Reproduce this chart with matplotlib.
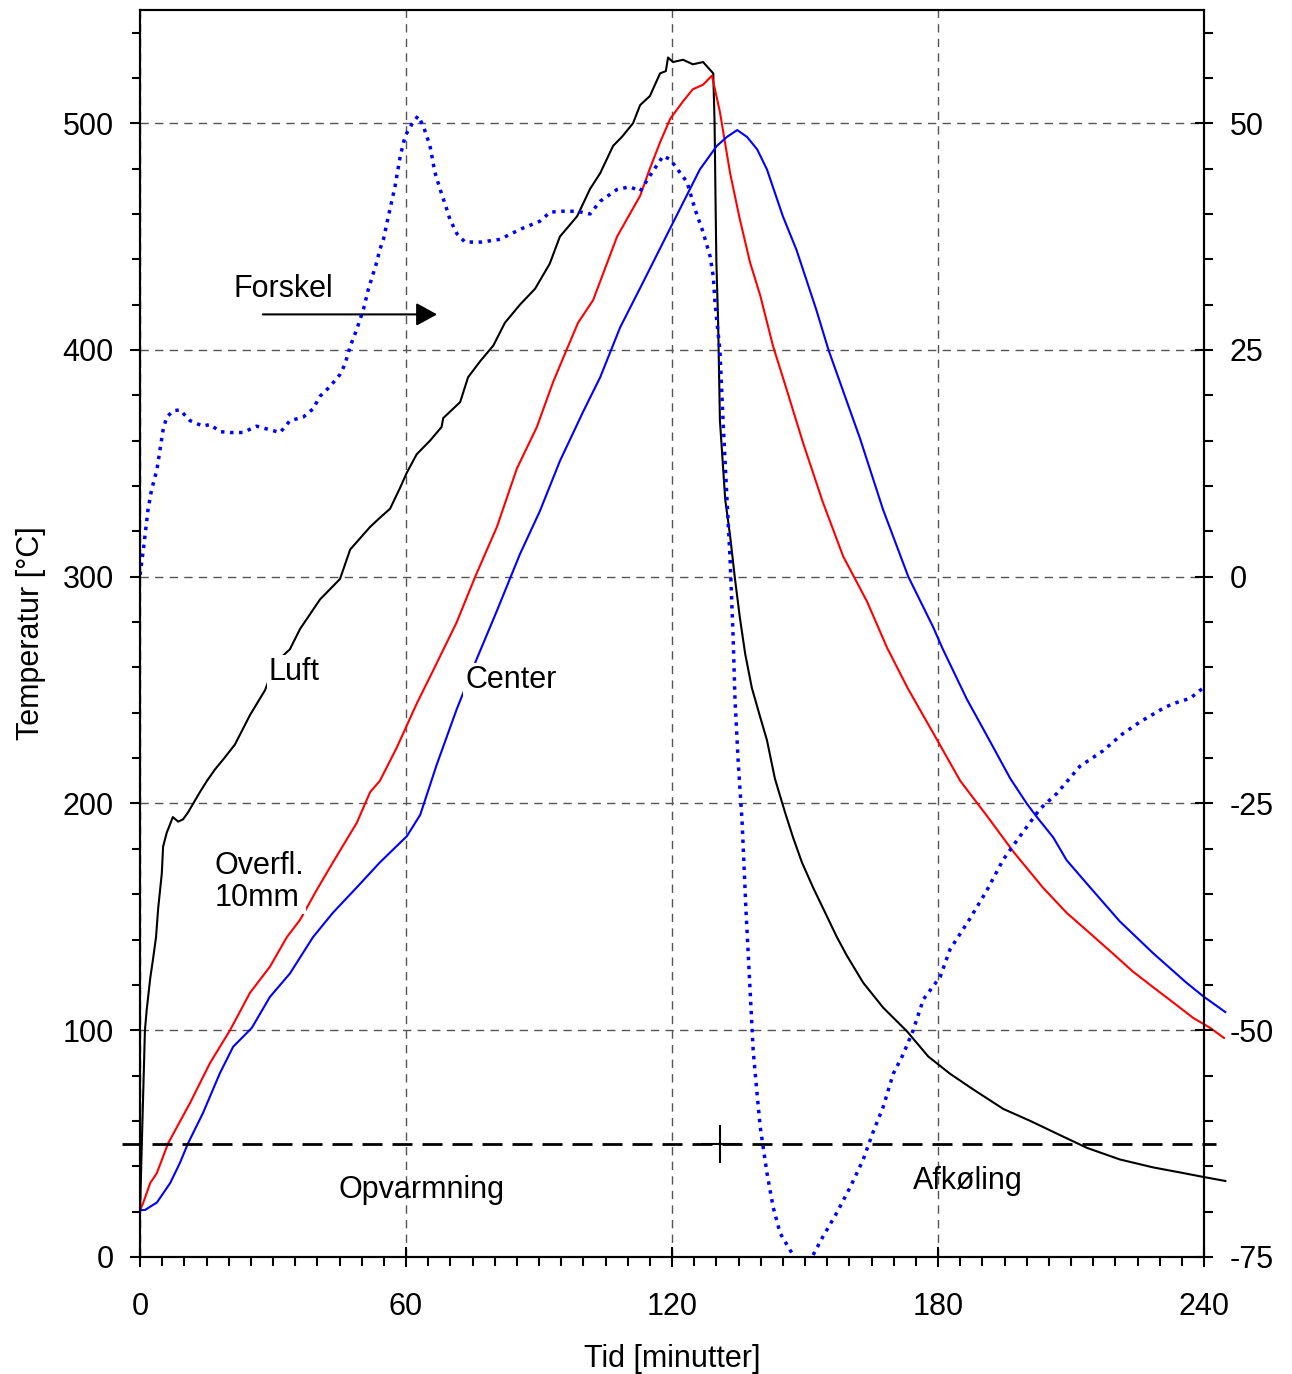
import numpy as np
import matplotlib.pyplot as plt
from matplotlib.ticker import MultipleLocator

plt.rcParams['font.family'] = ['Liberation Sans', 'DejaVu Sans']
plt.rcParams['axes.unicode_minus'] = False

# Luft (ovnstemperatur)
t_luft = [0, 0.4, 1.1, 1.5, 2.3, 2.9, 3.6, 4.1, 4.9, 5.2, 6.0, 7.4, 8.6, 9.7, 10.8,
          12.0, 13.5, 15.1, 16.9, 19, 21.4, 24.8, 28.2, 30.5, 33.8, 36.1, 40.6, 45.1,
          47.4, 51.9, 54.1, 56.4, 58.6, 60.2, 62.4, 65.4, 68.0, 68.4, 72.2, 74.0, 76.7,
          79.7, 82.3, 85.7, 89.1, 92.4, 94.7, 98.6, 101.5, 103.8, 106.7, 108.7, 111.2,
          112.8, 115.0, 117.3, 118.6, 119.1, 120.2, 122.5, 124.7, 127.0, 129.3, 129.6,
          129.8, 130.0, 130.4, 130.8, 132, 133.1, 134.2, 135.3, 136.5, 138, 139.9, 141.4,
          143.2, 145.5, 147.3, 149.3, 151.8, 154.5, 157.2, 159.4, 163.1, 167.6, 173,
          177.8, 182.7, 188, 194.7, 200.8, 206.9, 213.6, 221, 228.5, 235.3, 239.8, 244.8]
T_luft = [20, 50, 100, 109, 123, 131, 141, 154, 169, 181, 187, 194, 192, 193, 196,
          200, 205, 210, 215, 220, 226, 239, 250, 262, 268, 277, 290, 299,
          312, 322, 326, 330, 339, 346, 354, 360, 366, 370, 377, 388, 395,
          402, 412, 420, 427, 438, 450, 459, 471, 478, 490, 494, 500,
          508, 512, 522, 523, 529, 527, 528, 526, 527, 522, 500,
          468, 439, 412, 369, 334, 318, 299, 282, 266, 251, 238, 228,
          211, 196, 185, 174, 163, 152, 141, 133, 121, 110, 99.5,
          88.4, 80.8, 73.8, 65.3, 60, 54.3, 48.1, 43, 39.5, 37, 35.3, 33.5]

# Overflade 10 mm
t_overfl = [0, 0.7, 2.3, 3.8, 6.3, 11.3, 15.8, 20.3, 24.8, 29.3, 33.1, 36.1, 39.9,
            43.5, 48.9, 51.9, 54.1, 57.9, 62.4, 66.1, 71.4, 75.6, 80.5, 85, 89.5,
            93.2, 96.2, 98.8, 102.2, 107.6, 112.8, 115, 117.3, 119.6, 122.5, 124.7,
            127, 129, 130.8, 133.1, 135.3, 137.6, 139.9, 142.8, 145.5, 149.6, 154,
            158.6, 164, 168.5, 173.2, 179.8, 185, 191, 197, 203.7, 209, 214.3,
            219.5, 224, 228.5, 233, 237.5, 241.4, 244.5]
T_overfl = [20.7, 23.8, 32.6, 37, 50, 68, 85.6, 100, 116.5, 128, 141, 148.7, 162,
            174, 191.5, 205, 210, 224.6, 244, 258.6, 279.8, 300, 322, 347.7, 366,
            386, 400, 412, 422, 450, 468, 480, 491.6, 502, 509.7, 515,
            517, 521, 505, 478, 457.6, 438.6, 424, 401.6, 384.8, 358.8, 333,
            309, 289, 268.7, 250.7, 228, 210, 194.6, 178.7, 162.8, 151.8, 142.7,
            133.7, 125.8, 119, 112.3, 105.5, 101, 96.6]

# Center
t_center = [0, 1.1, 3.8, 6.8, 9, 10.8, 14.2, 18, 21, 25.2, 29.3, 33.8, 39, 43.5, 48.9,
            54.1, 60.2, 63.2, 66.9, 71.4, 76, 80.5, 85.7, 90.2, 94.7, 100, 103.8,
            108.3, 113.5, 118, 122.5, 126.3, 130.1, 132.4, 134.7, 136.9, 139.2, 141.4,
            145, 148.1, 152.5, 155.3, 157.9, 162.4, 167.6, 173.3, 178.9, 181.1, 186.5,
            191, 196.3, 200, 202.3, 206, 209, 214.3, 221, 228.5, 236, 239.8, 244.8]
T_center = [20.7, 20.7, 24, 32.6, 41.5, 50, 63.5, 81, 92.7, 101, 114.7, 125, 141, 151.8, 163,
            174, 185.6, 195, 217, 241.4, 264, 285, 310, 329, 351, 373, 388,
            410, 430, 447.5, 465, 479.7, 490, 494, 497, 494, 488.5, 479.7,
            459, 444, 418, 400, 385.7, 361, 329.6, 300, 277.8, 268, 246,
            230, 211, 200, 194, 185, 175, 163, 148, 134, 121, 115, 108]

# Forskel (overflade - center), hoejre akse
t_forskel = [0, 0.75, 1.8, 2.6, 3.8, 4.5, 5.2, 6, 7.5, 9, 11.3, 14.2, 15.8, 18, 20.3,
             23.2, 26.3, 29.3, 31.6, 33.8, 36.8, 39, 40.6, 42.9, 45.1, 46.2, 47.4,
             48.9, 50.4, 51.5, 53.4, 54.1, 54.9, 56, 57.5, 58.7, 59.8, 61.3, 62.7,
             63.9, 65.4, 66.5, 67.7, 69.2, 69.9, 71.5, 73.3, 77, 81.2, 85.7, 90.2,
             92.5, 95.4, 98.6, 101.5, 103.8, 107.6, 110.5, 112.8, 115, 118, 119.6,
             123.4, 125.2, 127, 128.6, 129.3, 129.7, 130.3, 130.8, 131.5, 132.4,
             133.1, 133.8, 134.2, 134.9, 135.8, 136.7, 137.6, 138.3, 139.1, 139.9,
             141.4, 142.8, 144.4, 147.3, 149.5, 151.8, 154, 157.2, 160.2, 163.1,
             165.3, 167.6, 169.9, 172.1, 174.4, 176.7, 180.5, 182.7, 187.2, 191,
             194.7, 198.5, 203, 206.8, 212, 217.2, 221.7, 225.6, 230.8, 233, 236.9,
             240.2]
D_forskel = [0.2, 3, 7.4, 9.6, 11.8, 14, 16.2, 17.6, 18.3, 18.4, 17.2, 16.6, 16.8, 16, 15.9,
             15.9, 16.6, 16.2, 15.9, 17.2, 17.6, 18.5, 19.9, 21, 22.3, 23.4, 25.4,
             27.3, 29.5, 31.7, 34.7, 36.1, 37.2, 39.7, 43, 46.4, 48.6, 49.9, 50.8,
             49.7, 47.5, 44.6, 42.7, 40.5, 39.4, 37.8, 36.9, 36.9, 37.2, 38.3, 39.2,
             40.2, 40.3, 40.3, 40, 41.4, 42.7, 43, 42.5, 44.2, 46.4, 46,
             43.5, 40.5, 38, 35.3, 33.1, 30.2, 27.3, 25, 17.3, 8.5,
             1.9, -6.9, -13.5, -20.2, -27, -37, -45.5, -52.2, -56.6, -60.7,
             -65.7, -69.5, -72.4, -74.8, -76, -74.8, -72.8, -70.1, -67.3, -64.3,
             -61.3, -58.5, -54.8, -52.7, -50, -46.6, -44.1, -41.1, -37.7, -34.6,
             -31.2, -28.6, -25.6, -23.9, -20.9, -19.2, -17.3, -16, -14.5, -14, -13.4,
             -12.1]

split_temp = 50        # grænse mellem opvarmning og afkøling
split_time = 130.8

fig = plt.figure(figsize=(12.92, 13.74), dpi=100)
ax = fig.add_axes([0.1084, 0.0852, 0.8235, 0.9076])

ax.plot(t_luft, T_luft, color='black', lw=1.5, clip_on=False)
ax.plot(t_overfl, T_overfl, color='red', lw=1.5, clip_on=False)
ax.plot(t_center, T_center, color='blue', lw=1.5, clip_on=False)

ax.axhline(split_temp, xmin=-0.017, xmax=1.011, color='black', lw=2,
           dashes=(7.2, 3.6), clip_on=False)
ax.plot([split_time], [split_temp], marker='+', ms=27, mew=1.5, color='black')

ax.set_xlim(0, 240)
ax.set_ylim(0, 550)
ax.xaxis.set_major_locator(MultipleLocator(60))
ax.xaxis.set_minor_locator(MultipleLocator(5))
ax.yaxis.set_major_locator(MultipleLocator(100))
ax.yaxis.set_minor_locator(MultipleLocator(20))
ax.grid(True, which='major', color='#555555', lw=1.0, dashes=(6, 4.5))

ax.tick_params(axis='y', which='major', direction='out', length=7, width=1.5,
               labelsize=22, pad=12)
ax.tick_params(axis='y', which='minor', direction='out', length=6, width=1.5)
ax.tick_params(axis='x', which='major', direction='inout', length=14, width=1.5,
               labelsize=22, pad=18)
ax.tick_params(axis='x', which='minor', direction='out', length=6.5, width=1.5)
for s in ax.spines.values():
    s.set_linewidth(1.5)

ax.set_xlabel('Tid [minutter]', fontsize=22, labelpad=16)
ax.set_ylabel('Temperatur [°C]', fontsize=22, labelpad=12)

# tekster med hvid baggrund
box = dict(facecolor='white', edgecolor='none', pad=1)
ax.text(28.9, 258, 'Luft', fontsize=22, va='center', ha='left', bbox=box)
ax.text(73.3, 254.6, 'Center', fontsize=22, va='center', ha='left', bbox=box)
ax.text(16.9, 165.5, 'Overfl.\n10mm', fontsize=22, va='center', ha='left',
        linespacing=1.1, bbox=box)
ax.text(44.7, 29.6, 'Opvarmning', fontsize=22, va='center', ha='left')
ax.text(174.4, 33.5, 'Afkøling', fontsize=22, va='center', ha='left')
ax.text(21, 427, 'Forskel', fontsize=22, va='center', ha='left')
ax.annotate('', xy=(67, 415.7), xytext=(27.7, 415.7),
            arrowprops=dict(arrowstyle='-|>,head_length=0.4,head_width=0.22',
                            color='black', lw=1.5, mutation_scale=32,
                            shrinkA=0, shrinkB=0))

# højre akse: forskel
ax2 = ax.twinx()
ax2.plot(t_forskel, D_forskel, color='blue', lw=2.5, linestyle=(0, (1, 1.6)))
ax2.set_ylim(-75, 62.5)
ax2.yaxis.set_major_locator(MultipleLocator(25))
ax2.yaxis.set_minor_locator(MultipleLocator(5))
ax2.tick_params(axis='y', which='major', direction='inout', length=13, width=1.5,
                labelsize=22, pad=12)
ax2.tick_params(axis='y', which='minor', direction='out', length=6.5, width=1.5)
for s in ax2.spines.values():
    s.set_linewidth(1.5)

fig.savefig('out.png', dpi=100)
